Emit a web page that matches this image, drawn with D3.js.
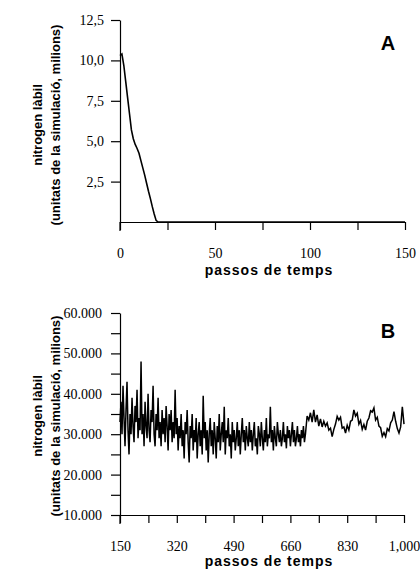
<!DOCTYPE html>
<head>
    <meta charset="utf-8">
    <script src="https://d3js.org/d3.v7.min.js"></script>
    <style>
        body {
            margin: 0;
            background: #fff;
        }
        .tick text {
            font-family: "Liberation Serif", "Times New Roman", serif;
            font-size: 14px;
            fill: #000;
        }
        .domain, .tick line {
            stroke: #000;
            stroke-width: 1.2px;
        }
        .title {
            font-family: "Liberation Sans", Arial, sans-serif;
            font-weight: bold;
            fill: #000;
        }
    </style>
</head>

<body>
<div id="vis"></div>

<script>
    // panel A: labile nitrogen, first 150 steps
    var stepsA  = [0, 1, 2, 3, 4, 5, 6, 7, 8, 9, 10, 11, 12, 13, 14, 15, 16, 17, 18, 19, 20, 150];
    var valuesA = [10.3, 10.4, 9.7, 8.7, 7.7, 6.7, 5.7, 5.15, 4.8, 4.55, 4.25, 3.8, 3.35, 2.9, 2.4, 1.9, 1.45, 0.95, 0.5, 0.1, 0, 0];

    // panel B: noisy stretch read every 3 steps (150..702), calmer stretch every 5 (705..1000), thousands
    var stepsB = d3.range(150, 705, 3).concat(d3.range(705, 1001, 5));
    var valuesB = [
        33, 38, 30, 42, 34, 27, 36, 43, 31, 25,
        35, 30, 39, 32, 28, 37, 33, 41, 29, 34,
        31, 48, 30, 35, 27, 38, 32, 29, 40, 31,
        28, 36, 33, 42, 30, 27, 35, 31, 39, 29,
        33, 27, 36, 30, 34, 28, 37, 32, 26, 35,
        31, 36, 28, 33, 29, 41, 30, 34, 26, 32,
        29, 35, 27, 31, 24, 33, 30, 36, 28, 23,
        32, 29, 35, 26, 31, 28, 34, 24, 30, 33,
        27, 31, 25, 39.5, 29, 33, 26, 31, 23, 30,
        34, 27, 31, 25, 33, 29, 24, 32, 28, 35,
        26, 30, 33, 28, 36.8, 25, 31, 29, 34, 27,
        30, 24, 33, 28, 31, 26, 29, 33, 27, 31,
        25, 30, 34, 28, 31, 26, 32, 29, 27, 33,
        28, 31, 26, 30, 33, 27, 29, 25, 32, 30,
        27, 33, 29, 26, 31, 28, 34, 27, 30, 29,
        36.8, 28, 31, 26, 32, 29, 27, 33, 30, 28,
        31, 27, 29, 33, 28, 30, 26.5, 32, 29, 31,
        27, 30, 33, 28, 31, 27, 29, 32, 28, 30,
        27, 31, 29, 32, 28,
        30, 34.5, 33.5, 35.3, 33, 36, 33, 34.8, 32, 33.8,
        31.8, 33.2, 32, 32.8, 31, 31.5, 29.4, 31.2, 32.5, 34.4,
        33.5, 34.2, 31.5, 31.8, 30.3, 32.2, 31, 33.2, 33.5, 36,
        34.5, 35.2, 32.5, 33.4, 31.2, 32.4, 31, 33.2, 34, 35.8,
        35.5, 36.5, 33.5, 34.2, 32, 31.6, 29.5, 30.4, 29.4, 31.4,
        30.8, 32.8, 33.5, 35.6, 33.2, 31.4, 30.3, 31.8, 36.8, 32.5
    ];

    var ticksAx = [0, 25, 50, 75, 100, 125, 150];
    var labelsAx = [0, 50, 100, 150];
    var ticksAy = [2.5, 5, 7.5, 10, 12.5];

    var ticksBx = [150, 235, 320, 405, 490, 575, 660, 745, 830, 915, 1000];
    var labelsBx = {150: "150", 320: "320", 490: "490", 660: "660", 830: "830", 1000: "1,000"};
    var ticksBy = [10000, 15000, 20000, 25000, 30000, 35000, 40000, 45000, 50000, 55000, 60000];
    var labelsBy = {10000: "10.000", 20000: "20.000", 30000: "30.000", 40000: "40.000", 50000: "50.000", 60000: "60.000"};

    var width = 420, height = 569;

    var svg = d3.select("#vis")
        .append("svg")
        .attr("width", width)
        .attr("height", height);

    ////////// panel A //////////
    var xA = d3.scaleLinear().domain([0, 150]).range([120, 405]);
    var yA = d3.scaleLinear().domain([0, 12.5]).range([222, 20]);

    svg.append("g")
        .attr("transform", "translate(0," + yA(0) + ")")
        .call(d3.axisBottom(xA)
            .tickValues(ticksAx)
            .tickSize(8).tickSizeOuter(0).tickPadding(18)
            .tickFormat(function(d) { return labelsAx.indexOf(d) >= 0 ? d : ""; }));

    svg.append("g")
        .attr("transform", "translate(" + xA(0) + ",0)")
        .call(d3.axisLeft(yA)
            .tickValues(ticksAy)
            .tickSize(9).tickSizeOuter(0).tickPadding(7)
            .tickFormat(function(d) { return d3.format(".1f")(d).replace(".", ","); }));

    // y axis runs a bit below the x axis
    svg.append("line")
        .attr("x1", xA(0)).attr("x2", xA(0))
        .attr("y1", yA(0)).attr("y2", yA(0) + 9)
        .attr("stroke", "#000").attr("stroke-width", 1.2);

    var lineA = d3.line()
        .x(function(d, i) { return xA(stepsA[i]); })
        .y(function(d) { return yA(d); });

    svg.append("path")
        .datum(valuesA)
        .attr("d", lineA)
        .attr("fill", "none")
        .attr("stroke", "#000")
        .attr("stroke-width", 1.6);

    ////////// panel B //////////
    var xB = d3.scaleLinear().domain([150, 1000]).range([120, 404]);
    var yB = d3.scaleLinear().domain([10000, 60000]).range([515, 313]);

    svg.append("g")
        .attr("transform", "translate(0," + yB(10000) + ")")
        .call(d3.axisBottom(xB)
            .tickValues(ticksBx)
            .tickSize(8).tickSizeOuter(0).tickPadding(18)
            .tickFormat(function(d) { return labelsBx[d] || ""; }));

    svg.append("g")
        .attr("transform", "translate(" + xB(150) + ",0)")
        .call(d3.axisLeft(yB)
            .tickValues(ticksBy)
            .tickSize(9).tickSizeOuter(0).tickPadding(9)
            .tickFormat(function(d) { return labelsBy[d] || ""; }));

    svg.append("line")
        .attr("x1", xB(150)).attr("x2", xB(150))
        .attr("y1", yB(10000)).attr("y2", yB(10000) + 9)
        .attr("stroke", "#000").attr("stroke-width", 1.2);

    var lineB = d3.line()
        .x(function(d, i) { return xB(stepsB[i]); })
        .y(function(d) { return yB(d * 1000); });

    svg.append("path")
        .datum(valuesB)
        .attr("d", lineB)
        .attr("fill", "none")
        .attr("stroke", "#000")
        .attr("stroke-width", 1.5);

    ////////// titles //////////
    function axisTitles(cy, xTitleY, letter, letterY) {
        var g = svg.append("g")
            .attr("transform", "translate(37," + cy + ") rotate(-90)");
        g.append("text").attr("class", "title")
            .attr("text-anchor", "middle").attr("dy", "0.35em")
            .style("font-size", "13px")
            .text("nitrogen làbil");
        g.append("text").attr("class", "title")
            .attr("text-anchor", "middle").attr("dy", "0.35em")
            .attr("y", 18)
            .style("font-size", "13px")
            .text("(unitats de la simulació, milions)");

        svg.append("text").attr("class", "title")
            .attr("x", 269).attr("y", xTitleY)
            .attr("text-anchor", "middle").attr("dy", "0.35em")
            .style("font-size", "14px")
            .style("letter-spacing", "1px")
            .text("passos de temps");

        svg.append("text").attr("class", "title")
            .attr("x", 388).attr("y", letterY)
            .attr("text-anchor", "middle").attr("dy", "0.35em")
            .style("font-size", "20px")
            .text(letter);
    }

    axisTitles(125, 270, "A", 43);
    axisTitles(416, 561, "B", 331);
</script>
</body>
